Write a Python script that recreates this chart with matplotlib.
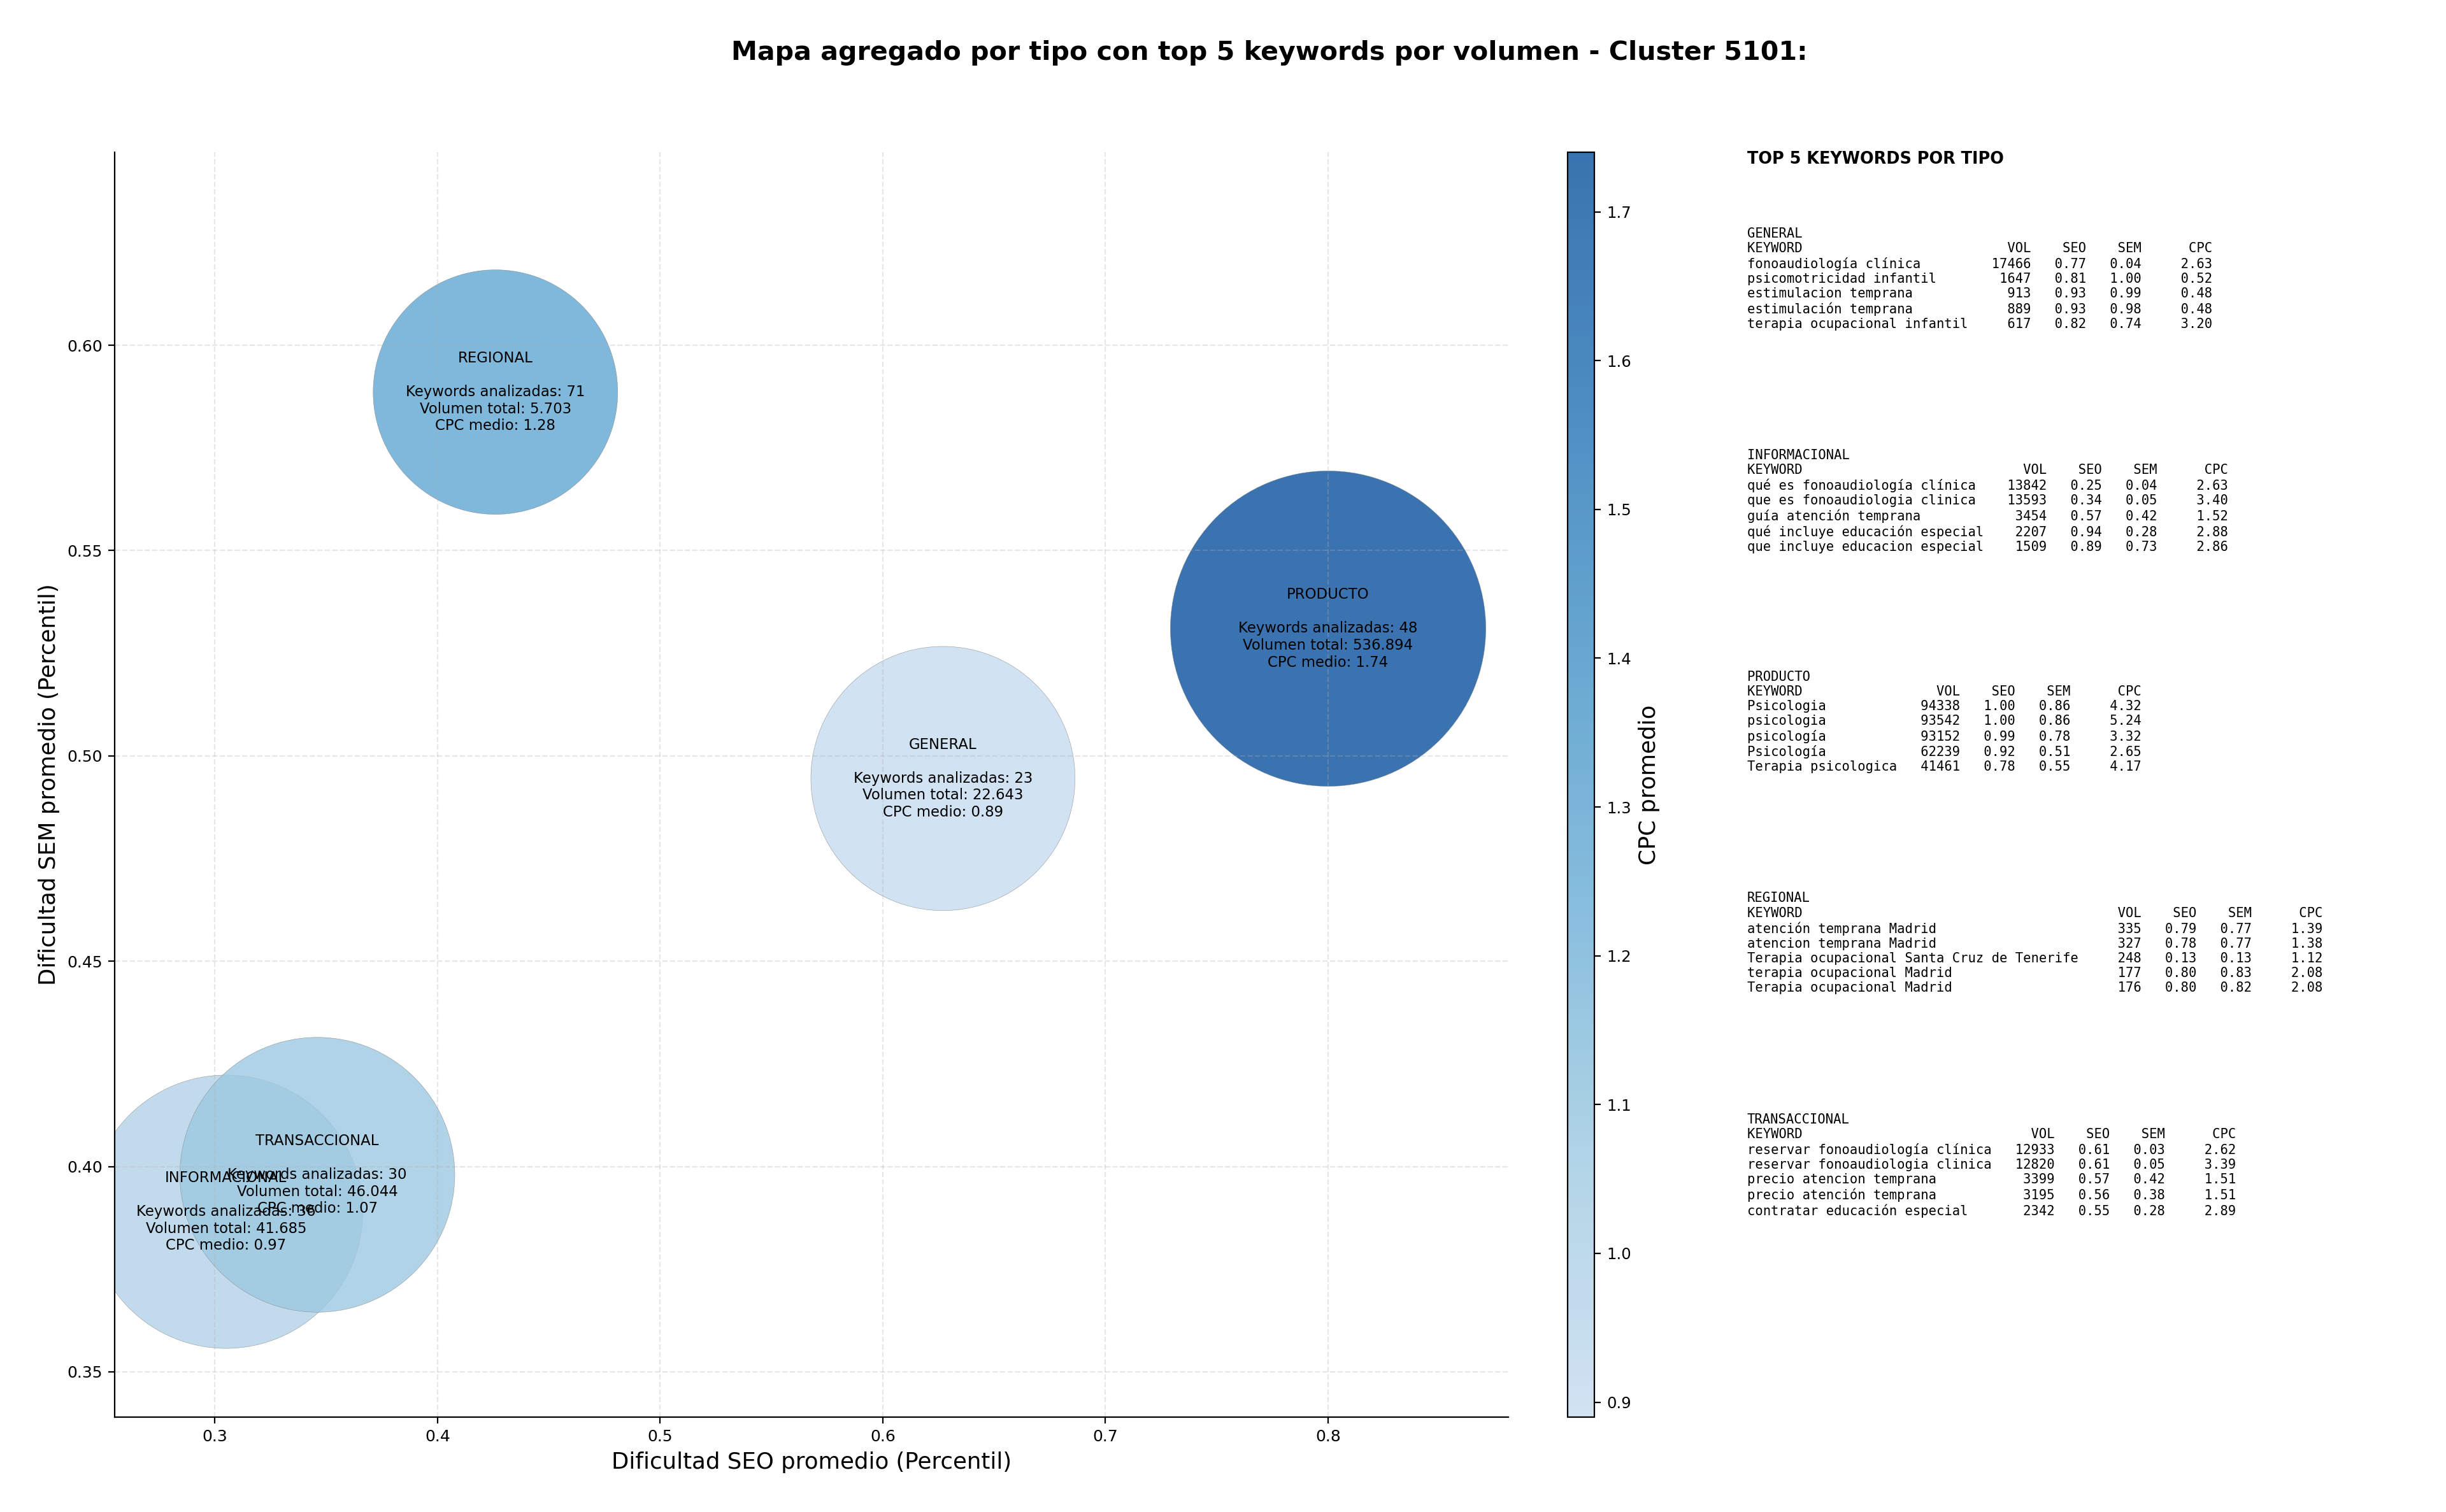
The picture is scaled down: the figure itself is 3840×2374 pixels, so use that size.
import numpy as np
import matplotlib.pyplot as plt
from matplotlib.colors import ListedColormap, Normalize

# Datos agregados por tipo
tipos = ["GENERAL", "INFORMACIONAL", "PRODUCTO", "REGIONAL", "TRANSACCIONAL"]
seo_medio = [0.627, 0.305, 0.800, 0.426, 0.346]
sem_medio = [0.4945, 0.389, 0.531, 0.5886, 0.398]
n_keywords = [23, 36, 48, 71, 30]
volumen = [22643, 41685, 536894, 5703, 46044]
cpc_medio = [0.89, 0.97, 1.74, 1.28, 1.07]

# Top 5 keywords por tipo: (keyword, vol, seo, sem, cpc)
top_general = [
    ("fonoaudiología clínica", 17466, 0.77, 0.04, 2.63),
    ("psicomotricidad infantil", 1647, 0.81, 1.00, 0.52),
    ("estimulacion temprana", 913, 0.93, 0.99, 0.48),
    ("estimulación temprana", 889, 0.93, 0.98, 0.48),
    ("terapia ocupacional infantil", 617, 0.82, 0.74, 3.20),
]
top_informacional = [
    ("qué es fonoaudiología clínica", 13842, 0.25, 0.04, 2.63),
    ("que es fonoaudiologia clinica", 13593, 0.34, 0.05, 3.40),
    ("guía atención temprana", 3454, 0.57, 0.42, 1.52),
    ("qué incluye educación especial", 2207, 0.94, 0.28, 2.88),
    ("que incluye educacion especial", 1509, 0.89, 0.73, 2.86),
]
top_producto = [
    ("Psicologia", 94338, 1.00, 0.86, 4.32),
    ("psicologia", 93542, 1.00, 0.86, 5.24),
    ("psicología", 93152, 0.99, 0.78, 3.32),
    ("Psicología", 62239, 0.92, 0.51, 2.65),
    ("Terapia psicologica", 41461, 0.78, 0.55, 4.17),
]
top_regional = [
    ("atención temprana Madrid", 335, 0.79, 0.77, 1.39),
    ("atencion temprana Madrid", 327, 0.78, 0.77, 1.38),
    ("Terapia ocupacional Santa Cruz de Tenerife", 248, 0.13, 0.13, 1.12),
    ("terapia ocupacional Madrid", 177, 0.80, 0.83, 2.08),
    ("Terapia ocupacional Madrid", 176, 0.80, 0.82, 2.08),
]
top_transaccional = [
    ("reservar fonoaudiología clínica", 12933, 0.61, 0.03, 2.62),
    ("reservar fonoaudiologia clinica", 12820, 0.61, 0.05, 3.39),
    ("precio atencion temprana", 3399, 0.57, 0.42, 1.51),
    ("precio atención temprana", 3195, 0.56, 0.38, 1.51),
    ("contratar educación especial", 2342, 0.55, 0.28, 2.89),
]
tops = [top_general, top_informacional, top_producto, top_regional, top_transaccional]

# tamaño de burbuja según volumen
vol = np.array(volumen, dtype=float)
sizes = 19100 * (vol / vol.min()) ** 0.112

cmap = ListedColormap(plt.cm.Blues(np.linspace(0.25, 0.875, 256)))
norm = Normalize(vmin=min(cpc_medio), vmax=max(cpc_medio))

fig = plt.figure(figsize=(19.2, 11.87), dpi=200)
ax = fig.add_axes([0.0469, 0.0628, 0.5698, 0.8365])
cax = fig.add_axes([0.6409, 0.0628, 0.0109, 0.8365])

sc = ax.scatter(seo_medio, sem_medio, s=sizes, c=cpc_medio, cmap=cmap, norm=norm,
                alpha=0.8, edgecolors="grey", linewidths=0.2)

for t, x, y, n, v, c in zip(tipos, seo_medio, sem_medio, n_keywords, volumen, cpc_medio):
    vol_txt = f"{v:,}".replace(",", ".")
    ax.text(x, y, f"{t}\n\nKeywords analizadas: {n}\nVolumen total: {vol_txt}\nCPC medio: {c:.2f}",
            ha="center", va="center", fontsize=8.2)

ax.set_xlim(0.255, 0.881)
ax.set_ylim(0.339, 0.647)
ax.set_xticks([0.3, 0.4, 0.5, 0.6, 0.7, 0.8])
ax.set_yticks([0.35, 0.40, 0.45, 0.50, 0.55, 0.60])
ax.tick_params(labelsize=9)
ax.grid(True, linestyle="--", alpha=0.3)
ax.spines["top"].set_visible(False)
ax.spines["right"].set_visible(False)
ax.set_xlabel("Dificultad SEO promedio (Percentil)", fontsize=12.8)
ax.set_ylabel("Dificultad SEM promedio (Percentil)", fontsize=12.8)

cbar = fig.colorbar(sc, cax=cax)
cbar.set_label("CPC promedio", fontsize=12.8)
cbar.ax.tick_params(labelsize=8.8)

fig.text(0.519, 0.965, "Mapa agregado por tipo con top 5 keywords por volumen - Cluster 5101:",
         ha="center", va="center", fontsize=14.8, fontweight="bold")

# Panel de texto con el top 5
fig.text(0.7143, 0.8947, "TOP 5 KEYWORDS POR TIPO", ha="left", va="center",
         fontsize=9.2, fontweight="bold")
for i, (t, rows) in enumerate(zip(tipos, tops)):
    w = max(len(r[0]) for r in rows)
    lines = [t, f"{'KEYWORD':<{w}}{'VOL':>8}{'SEO':>7}{'SEM':>7}{'CPC':>9}"]
    for kw, v, s_, m_, c_ in rows:
        lines.append(f"{kw:<{w}}{v:>8}{s_:>7.2f}{m_:>7.2f}{c_:>9.2f}")
    fig.text(0.7143, 0.8496 - i * 0.1465, "\n".join(lines), ha="left", va="top",
             fontsize=7.4, family="monospace")

fig.savefig("out.png", dpi=200)
